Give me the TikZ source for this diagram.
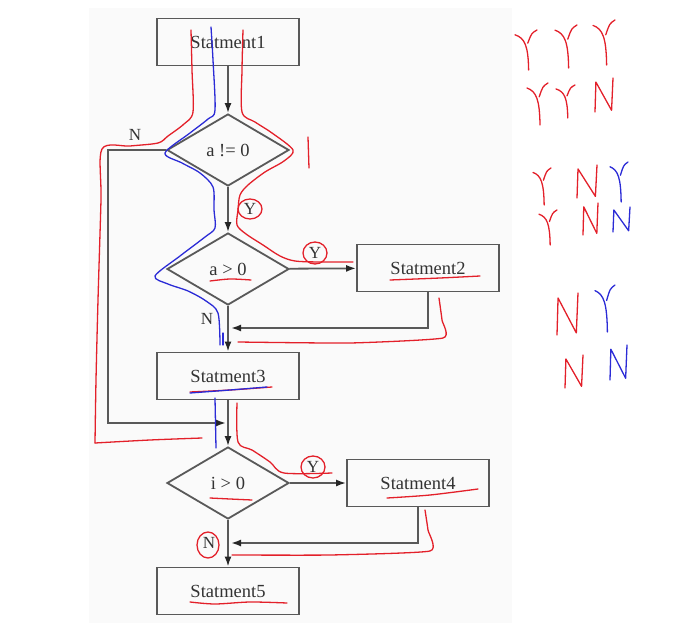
\documentclass[tikz,border=0pt]{standalone}
\usepackage{fontspec}
\setmainfont{Liberation Serif}
\usetikzlibrary{shapes.geometric,arrows.meta}
\definecolor{ln}{HTML}{595959}
\definecolor{tx}{HTML}{333333}
\definecolor{hr}{HTML}{E3202A}
\definecolor{hb}{HTML}{2B2BD6}
\tikzset{
  box/.style={draw=ln, line width=1.8pt, rectangle, minimum width=142pt, minimum height=47pt, inner sep=0pt, text=tx, font=\fontsize{18.5}{21}\selectfont},
  dia/.style={draw=ln, line width=1.8pt, diamond, aspect=1.7, minimum width=122pt, minimum height=72pt, inner sep=0pt, text=tx, font=\fontsize{18.5}{21}\selectfont},
  lab/.style={text=tx, inner sep=0pt, font=\fontsize{17}{20}\selectfont},
  arr/.style={draw=ln, line width=1.8pt, -{Latex[length=10pt,width=7pt,color=black!85]}},
  hand/.style={line width=1.3pt, line cap=round, line join=round},
}
\newcommand\hwY[5]{%
  \draw[#1,hand] (#2,{#3+0.12*(#5-#3)}) .. controls ({#2+0.45*(#4-#2)},{#3+0.2*(#5-#3)}) and ({#2+0.6*(#4-#2)},{#3+0.4*(#5-#3)}) .. ({#2+0.62*(#4-#2)},#5);
  \draw[#1,hand] (#4,#3) .. controls ({#2+0.75*(#4-#2)},{#3+0.08*(#5-#3)}) .. ({#2+0.58*(#4-#2)},{#3+0.33*(#5-#3)});
}
\newcommand\hwN[5]{%
  \draw[#1,hand] (#2,#5) -- ({#2+0.05*(#4-#2)},{#3+0.12*(#5-#3)}) -- ({#4-0.08*(#4-#2)},{#5-0.05*(#5-#3)}) -- (#4,#3);
}
\begin{document}
\begin{tikzpicture}[x=1pt,y=-1pt]
\useasboundingbox (0,0) rectangle (694,629);
\fill[black!2] (89,8) rectangle (512,623);

% nodes
\node[box] (s1) at (228,42) {Statment1};
\node[dia] (d1) at (228,150) {a != 0};
\node[dia] (d2) at (228,269) {a > 0};
\node[box] (s2) at (428,268) {Statment2};
\node[box] (s3) at (228,376) {Statment3};
\node[dia] (d3) at (228,483) {i > 0};
\node[box] (s4) at (418,483) {Statment4};
\node[box] (s5) at (228,591) {Statment5};

\coordinate (c1) at (108,150);
\coordinate (j1) at (226,423);
\coordinate (j2) at (231,328);
\coordinate (j3) at (231,543);

% connectors
\draw[arr] (s1) -- (d1);
\draw[arr] (d1) -- (d2);
\draw[arr] (d2) -- (s2);
\draw[arr] (d2) -- (s3);
\draw[arr] (s3) -- (d3);
\draw[arr] (d3) -- (s4);
\draw[arr] (d3) -- (s5);
\draw[arr] (d1.west) -- (c1) |- (j1);
\draw[arr] (s2.south) |- (j2);
\draw[arr] (s4.south) |- (j3);

% labels
\node[lab] (n1) at (135,135) {N};
\node[lab] (y1) at (250,209) {Y};
\node[lab] (y2) at (315,253) {Y};
\node[lab] (n2) at (207,319) {N};
\node[lab] (y3) at (313,467) {Y};
\node[lab] (n3) at (209,543) {N};

% handwritten red
\draw[hr,hand] plot[smooth,tension=0.5] coordinates {(191,30) (192,70) (193,112) (184,124) (168,136) (158,143) (130,146) (102,149) (101,200) (98,300) (96,380) (95,443)};
\draw[hr,hand] plot[smooth,tension=0.5] coordinates {(95,443) (150,440) (202,438)};
\draw[hr,hand] plot[smooth,tension=0.5] coordinates {(243,30) (242,70) (242,112) (255,122) (272,133) (293,150) (284,161) (265,172) (248,185) (240,195) (238,210) (237,225) (246,234) (263,245) (280,256) (295,261) (320,262) (353,262)};
\draw[hr,hand] (308,137) -- (309,168);
\draw[hr,hand] (250,209) ellipse [x radius=12pt, y radius=10pt];
\draw[hr,hand] (315,253) ellipse [x radius=12pt, y radius=11pt];
\draw[hr,hand] (313,467) ellipse [x radius=12pt, y radius=11pt];
\draw[hr,hand] (208,545) ellipse [x radius=11pt, y radius=13pt];
\draw[hr,hand] plot[smooth] coordinates {(210,281) (230,279) (251,280)};
\draw[hr,hand] plot[smooth] coordinates {(390,280) (440,278) (480,276)};
\draw[hr,hand] plot[smooth,tension=0.3] coordinates {(439,298) (442,320) (443,338) (350,343) (238,342)};
\draw[hr,hand] plot[smooth] coordinates {(190,392) (230,390) (272,387)};
\draw[hr,hand] plot[smooth,tension=0.5] coordinates {(237,403) (238,442) (252,450) (270,462) (284,473) (332,473)};
\draw[hr,hand] plot[smooth] coordinates {(210,498) (230,499) (252,500)};
\draw[hr,hand] plot[smooth] coordinates {(387,498) (430,495) (478,489)};
\draw[hr,hand] plot[smooth,tension=0.3] coordinates {(425,510) (428,530) (430,551) (330,555) (232,555)};
\draw[hr,hand] plot[smooth] coordinates {(190,602) (215,604) (250,602) (287,603)};

% handwritten blue
\draw[hb,hand] plot[smooth,tension=0.5] coordinates {(211,27) (213,60) (215,110) (208,119) (190,133) (165,153) (182,163) (200,173) (213,187) (214,210) (215,228) (205,237) (180,256) (155,276) (168,284) (188,291) (206,301) (218,313) (220,345)};
\draw[hb,hand] (223,333) -- (223,345);
\draw[hb,hand] plot[smooth] coordinates {(190,393) (230,390) (267,387)};
\draw[hb,hand] (215,398) -- (216,448);

% handwritten letters
\hwY{hr}{515}{30}{537}{70}
\hwY{hr}{555}{25}{577}{68}
\hwY{hr}{593}{20}{615}{65}
\hwY{hr}{527}{83}{548}{125}
\hwY{hr}{556}{85}{575}{118}
\hwN{hr}{595}{78}{613}{112}
\hwY{hr}{533}{168}{551}{205}
\hwN{hr}{577}{165}{597}{198}
\hwY{hb}{610}{162}{628}{202}
\hwY{hr}{539}{210}{557}{245}
\hwN{hr}{583}{203}{598}{235}
\hwN{hb}{613}{207}{630}{232}
\hwN{hr}{557}{293}{578}{335}
\hwY{hb}{595}{285}{615}{332}
\hwN{hr}{565}{355}{583}{388}
\hwN{hb}{610}{345}{627}{380}
\end{tikzpicture}
\end{document}
